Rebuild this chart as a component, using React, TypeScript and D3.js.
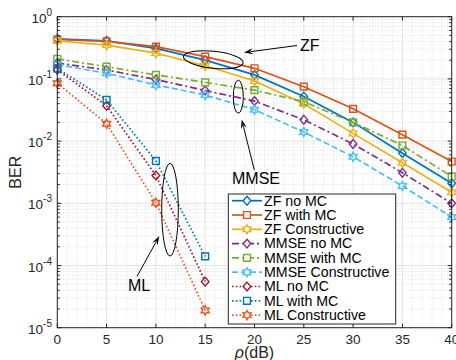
import React from "react";
import * as d3 from "d3";

// SNR axis (dB)
const snr = [0, 5, 10, 15, 20, 25, 30, 35, 40];
const snrML = [0, 5, 10, 15];

// BER values
const zfNoMC = [0.44, 0.41, 0.31, 0.2, 0.116, 0.052, 0.02, 0.0064, 0.0021];
const zfWithMC = [0.43, 0.4, 0.33, 0.228, 0.148, 0.075, 0.033, 0.0127, 0.0047];
const zfConstructive = [0.41, 0.35, 0.26, 0.163, 0.093, 0.04, 0.0133, 0.0045, 0.0015];
const mmseNoMC = [0.18, 0.139, 0.098, 0.065, 0.044, 0.022, 0.009, 0.0031, 0.001];
const mmseWithMC = [0.21, 0.157, 0.116, 0.088, 0.066, 0.043, 0.02, 0.0085, 0.0027];
const mmseConstructive = [0.17, 0.123, 0.08, 0.055, 0.032, 0.014, 0.0056, 0.0019, 0.0006];
const mlNoMC = [0.14, 0.037, 0.0028, 5.5e-5];
const mlWithMC = [0.148, 0.046, 0.0048, 1.4e-4];
const mlConstructive = [0.085, 0.019, 0.00102, 1.9e-5];

const xTicks = [0, 5, 10, 15, 20, 25, 30, 35, 40];
const yExponents = [0, -1, -2, -3, -4, -5];

type Marker = "diamond" | "square" | "hexagram";

const series = [
  { name: "ZF no MC", x: snr, y: zfNoMC, color: "#0072BD", dash: "", marker: "diamond" as Marker },
  { name: "ZF with MC", x: snr, y: zfWithMC, color: "#D95319", dash: "", marker: "square" as Marker },
  { name: "ZF Constructive", x: snr, y: zfConstructive, color: "#EDB120", dash: "", marker: "hexagram" as Marker },
  { name: "MMSE no MC", x: snr, y: mmseNoMC, color: "#7E2F8E", dash: "7,3,2,3", marker: "diamond" as Marker },
  { name: "MMSE with MC", x: snr, y: mmseWithMC, color: "#77AC30", dash: "7,3,2,3", marker: "square" as Marker },
  { name: "MMSE Constructive", x: snr, y: mmseConstructive, color: "#4DBEEE", dash: "6,3", marker: "hexagram" as Marker },
  { name: "ML no MC", x: snrML, y: mlNoMC, color: "#A2142F", dash: "1.6,2.2", marker: "diamond" as Marker },
  { name: "ML with MC", x: snrML, y: mlWithMC, color: "#0072BD", dash: "1.6,2.2", marker: "square" as Marker },
  { name: "ML Constructive", x: snrML, y: mlConstructive, color: "#E5561E", dash: "1.6,2.2", marker: "hexagram" as Marker },
];

const W = 456;
const H = 360;
const left = 57.3;
const right = 451.7;
const top = 16.7;
const bottom = 327.7;
const font = "'Liberation Sans', Arial, Helvetica, sans-serif";

function markerPath(type: Marker, cx: number, cy: number) {
  if (type === "square") {
    const s = 3.4;
    return `M${cx - s},${cy - s}H${cx + s}V${cy + s}H${cx - s}Z`;
  }
  if (type === "diamond") {
    const a = 3.8, b = 4.4;
    return `M${cx},${cy - b}L${cx + a},${cy}L${cx},${cy + b}L${cx - a},${cy}Z`;
  }
  // six point star
  const ro = 4.6, ri = 2.6;
  const pts: string[] = [];
  for (let i = 0; i < 12; i++) {
    const r = i % 2 === 0 ? ro : ri;
    const ang = -Math.PI / 2 + (i * Math.PI) / 6;
    pts.push(`${cx + r * Math.cos(ang)},${cy + r * Math.sin(ang)}`);
  }
  return "M" + pts.join("L") + "Z";
}

function Arrow({ x1, y1, x2, y2 }: { x1: number; y1: number; x2: number; y2: number }) {
  // line from (x1,y1) to tip (x2,y2)
  const ang = Math.atan2(y2 - y1, x2 - x1);
  const len = 9, half = 3;
  const bx = x2 - len * Math.cos(ang);
  const by = y2 - len * Math.sin(ang);
  const px = -Math.sin(ang) * half;
  const py = Math.cos(ang) * half;
  return (
    <g>
      <line x1={x1} y1={y1} x2={bx + 2 * Math.cos(ang)} y2={by + 2 * Math.sin(ang)} stroke="#000" strokeWidth={1} />
      <path d={`M${x2},${y2}L${bx + px},${by + py}L${bx + 3 * Math.cos(ang)},${by + 3 * Math.sin(ang)}L${bx - px},${by - py}Z`} fill="#000" />
    </g>
  );
}

export default function App() {
  const x = d3.scaleLinear().domain([0, 40]).range([left, right]);
  const y = d3.scaleLog().domain([1e-5, 1]).range([bottom, top]);

  const line = d3
    .line<[number, number]>()
    .x((d) => x(d[0]))
    .y((d) => y(d[1]));

  const minorX = d3.range(0, 41).filter((v) => v % 5 !== 0);
  const minorY: number[] = [];
  for (let e = -5; e < 0; e++) {
    for (let k = 2; k < 10; k++) minorY.push(k * Math.pow(10, e));
  }

  const legX = 228.3, legY = 194, legW = 167.4, legH = 130;
  const rowH = 14.3;

  return (
    <svg width={W} height={H} style={{ position: "absolute", left: 0, top: 0, background: "#fff" }} fontFamily={font}>
      <rect x={0} y={0} width={W} height={H} fill="#fff" />
      {/* minor grid */}
      {minorX.map((v) => (
        <line key={"mx" + v} x1={x(v)} x2={x(v)} y1={top} y2={bottom} stroke="#dadada" strokeWidth={1} strokeDasharray="1,2" />
      ))}
      {minorY.map((v, i) => (
        <line key={"my" + i} x1={left} x2={right} y1={y(v)} y2={y(v)} stroke="#dadada" strokeWidth={1} strokeDasharray="1,2" />
      ))}
      {/* major grid */}
      {xTicks.map((v) => (
        <line key={"gx" + v} x1={x(v)} x2={x(v)} y1={top} y2={bottom} stroke="#e2e2e2" strokeWidth={1} />
      ))}
      {yExponents.map((e) => (
        <line key={"gy" + e} x1={left} x2={right} y1={y(Math.pow(10, e))} y2={y(Math.pow(10, e))} stroke="#e2e2e2" strokeWidth={1} />
      ))}

      {/* series */}
      {series.map((s) => (
        <g key={s.name}>
          <path
            d={line(s.x.map((v, i) => [v, s.y[i]] as [number, number])) || ""}
            fill="none"
            stroke={s.color}
            strokeWidth={1.7}
            strokeDasharray={s.dash || undefined}
          />
          {s.x.map((v, i) => (
            <path key={i} d={markerPath(s.marker, x(v), y(s.y[i]))} fill="none" stroke={s.color} strokeWidth={1.4} />
          ))}
        </g>
      ))}

      {/* axes box */}
      <rect x={left} y={top} width={right - left} height={bottom - top} fill="none" stroke="#262626" strokeWidth={1} />
      {xTicks.map((v) => (
        <g key={"tx" + v}>
          <line x1={x(v)} x2={x(v)} y1={bottom} y2={bottom - 4} stroke="#262626" />
          <line x1={x(v)} x2={x(v)} y1={top} y2={top + 4} stroke="#262626" />
          <text x={x(v)} y={344} textAnchor="middle" fontSize={13.5} fill="#262626">
            {v}
          </text>
        </g>
      ))}
      {yExponents.map((e) => (
        <g key={"ty" + e}>
          <line x1={left} x2={left + 4} y1={y(Math.pow(10, e))} y2={y(Math.pow(10, e))} stroke="#262626" />
          <line x1={right} x2={right - 4} y1={y(Math.pow(10, e))} y2={y(Math.pow(10, e))} stroke="#262626" />
          <text x={52} y={y(Math.pow(10, e)) + 6} textAnchor="end" fontSize={13.5} fill="#262626">
            <tspan>10</tspan>
            <tspan dy={-7} fontSize={10}>{e}</tspan>
          </text>
        </g>
      ))}
      {minorY.map((v, i) => (
        <g key={"mt" + i}>
          <line x1={left} x2={left + 2.5} y1={y(v)} y2={y(v)} stroke="#262626" />
          <line x1={right} x2={right - 2.5} y1={y(v)} y2={y(v)} stroke="#262626" />
        </g>
      ))}

      {/* axis labels */}
      <text x={(left + right) / 2} y={358} textAnchor="middle" fontSize={16} fill="#262626">
        <tspan fontStyle="italic">ρ</tspan>(dB)
      </text>
      <text transform={`translate(21,${(top + bottom) / 2}) rotate(-90)`} textAnchor="middle" fontSize={16} fill="#262626">
        BER
      </text>

      {/* annotations */}
      <ellipse cx={213.3} cy={59.7} rx={30} ry={8.5} transform="rotate(6,213.3,59.7)" fill="none" stroke="#000" strokeWidth={1} />
      <Arrow x1={297} y1={45.5} x2={244} y2={52.5} />
      <text x={300} y={51} fontSize={16} fill="#000">ZF</text>

      <ellipse cx={238.3} cy={96.7} rx={5} ry={16.5} fill="none" stroke="#000" strokeWidth={1} />
      <Arrow x1={254.3} y1={170} x2={241.7} y2={119.5} />
      <text x={232} y={184} fontSize={16} fill="#000">MMSE</text>

      <ellipse cx={170} cy={209.7} rx={8.3} ry={46.3} fill="none" stroke="#000" strokeWidth={1} />
      <Arrow x1={137} y1={276.5} x2={159.3} y2={236} />
      <text x={128} y={291} fontSize={16} fill="#000">ML</text>

      {/* legend */}
      <rect x={legX} y={legY} width={legW} height={legH} fill="#fff" stroke="#262626" strokeWidth={1} />
      {series.map((s, i) => {
        const cy = 200.7 + i * rowH;
        return (
          <g key={"lg" + s.name}>
            <line x1={232} x2={262} y1={cy} y2={cy} stroke={s.color} strokeWidth={1.7} strokeDasharray={s.dash || undefined} />
            <path d={markerPath(s.marker, 247, cy)} fill="#fff" stroke={s.color} strokeWidth={1.4} />
            <text x={264} y={cy + 4.8} fontSize={14.2} fill="#000">
              {s.name}
            </text>
          </g>
        );
      })}
    </svg>
  );
}
